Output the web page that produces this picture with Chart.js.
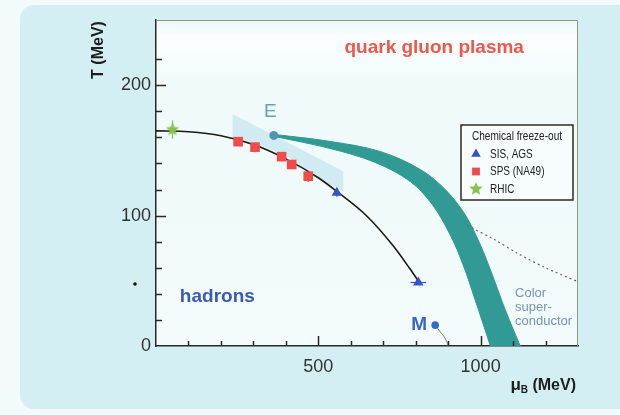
<!DOCTYPE html>
<html>
<head>
<meta charset="utf-8">
<script src="https://cdn.jsdelivr.net/npm/chart.js@4.4.1/dist/chart.umd.min.js"></script>
<style>
  html, body { margin: 0; padding: 0; background: #f2fafb; }
  #wrap { width: 620px; height: 415px; }
</style>
</head>
<body>
<div id="wrap"><canvas id="phaseChart" width="620" height="415"></canvas></div>
<script>
// QCD phase diagram: T (MeV) vs baryon chemical potential muB (MeV)

// chemical freeze-out line
const freezeMu = [0, 100, 200, 300, 400, 500, 557, 650, 730, 780, 812];
const freezeT  = [165, 164.3, 161.3, 154.5, 143.5, 129, 118.5, 99.5, 77, 60, 48.5];

// freeze-out points
const sisMu = [557, 808];
const sisT = [117.5, 48.7];
const sisMuErr = [0, 24];
const sisTErr = [3, 0];

const spsMu = [253, 305, 387, 418, 469];
const spsT = [156.7, 152.5, 145.2, 139.2, 130.2];
const spsTErr = [2.5, 4, 2.5, 2.5, 4.5];

const rhicMu = [51];
const rhicT = [166];
const rhicTErr = [7];

// critical end point E and point M
const pointE = { mu: 363, T: 161.5 };
const pointM = { mu: 860, T: 16 };
const mLineMu = [860, 875, 890, 901];
const mLineT = [16, 11, 6.2, 0];

// first order phase boundary band (outer edge, then inner edge back to E)
const bandOuterMu = [363, 536, 690, 814, 891, 952, 999, 1036, 1076, 1122, 1135];
const bandOuterT  = [162.3, 156.9, 149.2, 135.4, 120, 100.8, 77.7, 54.6, 27.7, 0, -8];
const bandInnerMu = [1039, 1030, 983, 946, 906, 851, 783, 675, 536, 363];
const bandInnerT  = [-8, 0, 35.4, 62.3, 85.4, 108.5, 126.2, 140.8, 151.5, 160.8];

// crossover / dotted continuation
const dottedMu = [959, 1040, 1112, 1200, 1298];
const dottedT = [92.3, 82, 71.3, 60, 49.5];

// uncertainty region of E
const shadeMu = [236, 577, 577, 480, 400, 300, 236];
const shadeT = [178, 134, 118.5, 131, 146.5, 155.5, 158.5];

// axis tick labels
const xTickLabels = [500, 1000];
const yTickLabels = [0, 100, 200];

const FONT = '"Liberation Sans", Arial, Helvetica, sans-serif';

const toXY = (xs, ys) => xs.map((x, i) => ({ x: x, y: ys[i] }));

function makeStar(r, color) {
    const c = document.createElement('canvas');
    c.width = c.height = 2 * r + 2;
    const g = c.getContext('2d');
    g.beginPath();
    for (let i = 0; i < 10; i++) {
        const a = -Math.PI / 2 + i * Math.PI / 5;
        const rr = i % 2 ? r * 0.45 : r;
        g.lineTo(r + 1 + rr * Math.cos(a), r + 1 + rr * Math.sin(a));
    }
    g.closePath();
    g.fillStyle = color;
    g.fill();
    return c;
}
const starImg = makeStar(7, '#86c24e');

const errBars = [
    { ds: 0, xErr: sisMuErr, yErr: sisTErr },
    { ds: 1, xErr: null, yErr: spsTErr },
    { ds: 2, xErr: null, yErr: rhicTErr }
];

const datasets = [
    { label: 'SIS, AGS', data: toXY(sisMu, sisT), pointStyle: 'triangle', pointRadius: 6,
      backgroundColor: '#3553c2', borderColor: '#3553c2', borderWidth: 0 },
    { label: 'SPS (NA49)', data: toXY(spsMu, spsT), pointStyle: 'rect', pointRadius: 6.8,
      backgroundColor: '#f04a4a', borderColor: '#f04a4a', borderWidth: 0 },
    { label: 'RHIC', data: toXY(rhicMu, rhicT), pointStyle: starImg, pointRadius: 7,
      backgroundColor: '#86c24e', borderColor: '#86c24e', borderWidth: 0 },
    { label: 'E', data: [{ x: pointE.mu, y: pointE.T }], pointRadius: 4.5,
      backgroundColor: '#4f96b4', borderWidth: 0 },
    { label: 'M', data: [{ x: pointM.mu, y: pointM.T }], pointRadius: 3.8,
      backgroundColor: '#3a66c6', borderWidth: 0 },
    { label: 'freeze-out', data: toXY(freezeMu, freezeT), showLine: true, pointRadius: 0,
      borderColor: '#1c1b12', borderWidth: 1.6, cubicInterpolationMode: 'monotone' },
    { label: 'M line', data: toXY(mLineMu, mLineT), showLine: true, pointRadius: 0,
      borderColor: '#7a7a7a', borderWidth: 1, tension: 0.4 },
    { label: 'dotted', data: toXY(dottedMu, dottedT), showLine: true, pointRadius: 0,
      borderColor: '#666', borderWidth: 1.2, borderDash: [2, 3], tension: 0.3 },
    { label: 'band', data: toXY(bandOuterMu.concat(bandInnerMu), bandOuterT.concat(bandInnerT)),
      showLine: true, pointRadius: 0, fill: 'shape', tension: 0.35,
      backgroundColor: '#319a94', borderColor: '#319a94', borderWidth: 1 },
    { label: 'shade', data: toXY(shadeMu, shadeT), showLine: true, pointRadius: 0,
      fill: 'shape', backgroundColor: 'rgba(202,232,238,0.85)', borderWidth: 0 }
];

const backdrop = {
    id: 'backdrop',
    beforeDraw(chart) {
        const { ctx, chartArea: a } = chart;
        ctx.save();
        ctx.fillStyle = '#f2fafb';
        ctx.fillRect(0, 0, 620, 415);
        ctx.fillStyle = '#d4eff3';
        ctx.beginPath();
        ctx.roundRect(20, 5, 640, 404, 14);
        ctx.fill();
        const g = ctx.createLinearGradient(0, a.top, 0, a.bottom);
        g.addColorStop(0, '#eaf8fa');
        g.addColorStop(0.05, '#fbfefe');
        g.addColorStop(0.2, '#f0fafb');
        g.addColorStop(1, '#f3fbfc');
        ctx.fillStyle = g;
        ctx.fillRect(a.left, a.top, a.right - a.left, a.bottom - a.top);
        ctx.fillStyle = '#111';
        ctx.beginPath();
        ctx.arc(135, 284, 1.8, 0, Math.PI * 2);
        ctx.fill();
        ctx.restore();
    }
};

const errorBars = {
    id: 'errorBars',
    beforeDatasetsDraw(chart) {
        const { ctx, scales: { x, y } } = chart;
        ctx.save();
        ctx.lineWidth = 1.2;
        errBars.forEach(eb => {
            const ds = chart.data.datasets[eb.ds];
            ctx.strokeStyle = ds.backgroundColor;
            ds.data.forEach((p, i) => {
                const px = x.getPixelForValue(p.x), py = y.getPixelForValue(p.y);
                ctx.beginPath();
                if (eb.yErr && eb.yErr[i]) {
                    ctx.moveTo(px, y.getPixelForValue(p.y - eb.yErr[i]));
                    ctx.lineTo(px, y.getPixelForValue(p.y + eb.yErr[i]));
                }
                if (eb.xErr && eb.xErr[i]) {
                    ctx.moveTo(x.getPixelForValue(p.x - eb.xErr[i]), py);
                    ctx.lineTo(x.getPixelForValue(p.x + eb.xErr[i]), py);
                }
                ctx.stroke();
            });
        });
        ctx.restore();
    }
};

const decorations = {
    id: 'decorations',
    afterDatasetsDraw(chart) {
        const { ctx, chartArea: a, scales: { x, y } } = chart;
        ctx.save();
        // frame top / right
        ctx.strokeStyle = '#8f9a7a';
        ctx.lineWidth = 1;
        ctx.beginPath();
        ctx.moveTo(a.left, a.top + 0.5);
        ctx.lineTo(a.right - 0.5, a.top + 0.5);
        ctx.lineTo(a.right - 0.5, a.bottom);
        ctx.stroke();
        // inward ticks
        ctx.strokeStyle = '#2a2a22';
        ctx.lineWidth = 1.5;
        ctx.beginPath();
        y.ticks.forEach(t => {
            if (t.value % 20 !== 0 || t.value === 0) return;
            const py = Math.round(y.getPixelForValue(t.value)) + 0.5;
            const len = t.value % 100 === 0 ? 10 : 6;
            ctx.moveTo(a.left, py);
            ctx.lineTo(a.left + len, py);
        });
        x.ticks.forEach(t => {
            if (t.value % 100 !== 0 || t.value === 0 || t.value === x.max) return;
            const px = Math.round(x.getPixelForValue(t.value)) + 0.5;
            const len = t.value % 500 === 0 ? 10 : 5;
            ctx.moveTo(px, a.bottom);
            ctx.lineTo(px, a.bottom - len);
        });
        ctx.stroke();

        // region labels
        ctx.textBaseline = 'middle';
        ctx.textAlign = 'center';
        ctx.font = 'bold 19px ' + FONT;
        ctx.fillStyle = '#f0574a';
        ctx.fillText('quark gluon plasma', x.getPixelForValue(857), y.getPixelForValue(228.5));
        ctx.textAlign = 'left';
        ctx.fillStyle = '#3b5cb2';
        ctx.fillText('hadrons', x.getPixelForValue(73.5), y.getPixelForValue(38));
        ctx.textAlign = 'center';
        ctx.font = '19px ' + FONT;
        ctx.fillStyle = '#62a6a6';
        ctx.fillText('E', x.getPixelForValue(352), y.getPixelForValue(180));
        ctx.font = 'bold 19px ' + FONT;
        ctx.fillStyle = '#3a66c6';
        ctx.fillText('M', x.getPixelForValue(811), y.getPixelForValue(16));
        ctx.textAlign = 'left';
        ctx.font = '13px ' + FONT;
        ctx.fillStyle = '#7a93b6';
        ['Color', 'super-', 'conductor'].forEach((s, i) => {
            ctx.fillText(s, x.getPixelForValue(1106), y.getPixelForValue([40.2, 29.6, 19][i]));
        });

        // axis titles
        ctx.fillStyle = '#1d1d1d';
        ctx.save();
        ctx.translate(99, 50);
        ctx.rotate(-Math.PI / 2);
        ctx.textAlign = 'center';
        ctx.font = 'bold 16px ' + FONT;
        ctx.fillText('T (MeV)', 0, 0);
        ctx.restore();

        ctx.textBaseline = 'alphabetic';
        ctx.textAlign = 'left';
        ctx.font = 'bold 16px ' + FONT;
        const tail = ' (MeV)';
        const wTail = ctx.measureText(tail).width;
        ctx.font = 'bold 10px ' + FONT;
        const wB = ctx.measureText('B').width;
        ctx.font = 'bold 17px ' + FONT;
        const wMu = ctx.measureText('\u03bc').width;
        let sx = a.right - 2 - wTail - wB - wMu;
        ctx.fillText('\u03bc', sx, 390);
        ctx.font = 'bold 10px ' + FONT;
        ctx.fillText('B', sx + wMu, 393);
        ctx.font = 'bold 16px ' + FONT;
        ctx.fillText(tail, sx + wMu + wB, 390);
        ctx.restore();
    }
};

// condensed text, like the narrow face of the original legend
function narrowText(ctx, s, px, py, size, squeeze, align) {
    ctx.save();
    ctx.font = size + 'px ' + FONT;
    ctx.translate(px, py);
    ctx.scale(squeeze, 1);
    ctx.textAlign = align;
    ctx.fillText(s, 0, 0);
    ctx.restore();
}

const freezeLegend = {
    id: 'freezeLegend',
    afterDraw(chart) {
        const { ctx } = chart;
        const bx = 461, by = 125, bw = 112, bh = 75;
        ctx.save();
        ctx.fillStyle = '#f7fcfc';
        ctx.fillRect(bx, by, bw, bh);
        ctx.strokeStyle = '#2d2d1e';
        ctx.lineWidth = 1.5;
        ctx.strokeRect(bx, by, bw, bh);
        ctx.fillStyle = '#222';
        ctx.textBaseline = 'middle';
        narrowText(ctx, 'Chemical freeze-out', bx + bw / 2, by + 11.5, 12, 0.84, 'center');
        [0, 1, 2].forEach((di, i) => {
            const ds = chart.data.datasets[di];
            const iy = by + 29 + i * 17.5;
            ctx.fillStyle = ds.backgroundColor;
            ctx.strokeStyle = ds.backgroundColor;
            Chart.helpers.drawPoint(ctx, {
                pointStyle: ds.pointStyle, radius: di === 2 ? 6 : 5.5, rotation: 0, borderWidth: 0
            }, bx + 15, iy);
            ctx.fillStyle = '#222';
            narrowText(ctx, ds.label, bx + 29, iy + 0.5, 12.5, 0.8, 'left');
        });
        ctx.restore();
    }
};

const ctx = document.getElementById('phaseChart').getContext('2d');

const phaseChart = new Chart(ctx, {
    type: 'scatter',
    data: { datasets: datasets },
    options: {
        responsive: false,
        animation: false,
        devicePixelRatio: 1,
        layout: { padding: { left: 0, right: 42, top: 20, bottom: 0 } },
        plugins: {
            legend: { display: false },
            tooltip: { enabled: false }
        },
        scales: {
            x: {
                type: 'linear', min: 0, max: 1300,
                grid: { display: false, drawTicks: false },
                border: { display: true, color: '#2a2a22', width: 1.5 },
                ticks: {
                    stepSize: 100, autoSkip: false, maxRotation: 0, padding: 10,
                    color: '#333', font: { family: FONT, size: 18 },
                    callback: v => xTickLabels.includes(v) ? String(v) : ''
                },
                afterFit: s => { s.height = 69; }
            },
            y: {
                min: 0, max: 250,
                grid: { display: false, drawTicks: false },
                border: { display: true, color: '#2a2a22', width: 1.5 },
                ticks: {
                    stepSize: 20, autoSkip: false, padding: 5,
                    color: '#333', font: { family: FONT, size: 18 },
                    callback: v => yTickLabels.includes(v) ? String(v) : ''
                },
                afterFit: s => { s.width = 156; }
            }
        }
    },
    plugins: [backdrop, errorBars, decorations, freezeLegend]
});
</script>
</body>
</html>
